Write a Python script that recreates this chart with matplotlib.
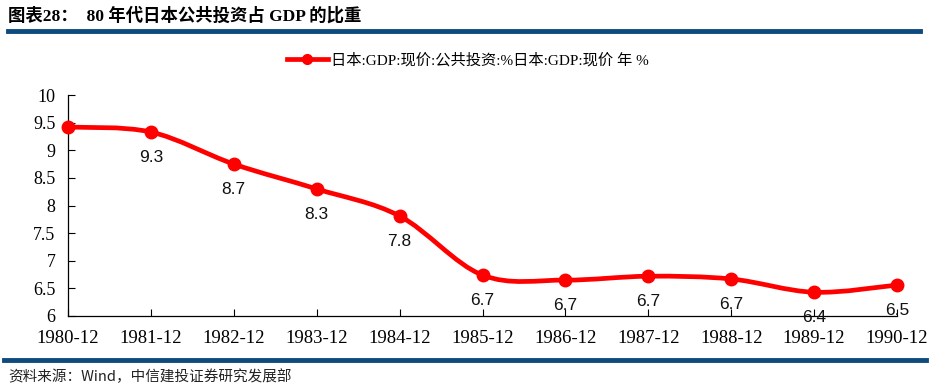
import matplotlib
matplotlib.use("Agg")
import matplotlib.pyplot as plt
from matplotlib.path import Path
from matplotlib.patches import PathPatch
from matplotlib.lines import Line2D
import numpy as np

categories = ["1980-12", "1981-12", "1982-12", "1983-12", "1984-12", "1985-12",
              "1986-12", "1987-12", "1988-12", "1989-12", "1990-12"]
values = [9.42, 9.33, 8.75, 8.30, 7.81, 6.74, 6.65, 6.72, 6.67, 6.43, 6.56]
labels = ["", "9.3", "8.7", "8.3", "7.8", "6.7", "6.7", "6.7", "6.7", "6.4", "6.5"]
yticks = [6, 6.5, 7, 7.5, 8, 8.5, 9, 9.5, 10]
ytick_labels = ["6", "6.5", "7", "7.5", "8", "8.5", "9", "9.5", "10"]
legend_label = "日本:GDP:现价:公共投资:%日本:GDP:现价 年 %"
title = "图表28：  80 年代日本公共投资占 GDP 的比重"
source = "资料来源：Wind，中信建投证券研究发展部"

RED = "#ff0000"
BLUE = "#0d4a7e"
serif = ["Liberation Serif", "Noto Sans CJK SC"]
sans = ["Liberation Sans", "Noto Sans CJK SC"]

fig = plt.figure(figsize=(9.3, 3.92), dpi=100)
ax = fig.add_axes([68/930, 1-316/392, (897-68)/930, (316-95)/392])

x = np.arange(len(values), dtype=float)
y = np.array(values)

# smooth curve through the points (Catmull-Rom -> cubic Bezier)
verts = [(x[0], y[0])]
codes = [Path.MOVETO]
n = len(x)
for i in range(n - 1):
    p0 = (x[i-1], y[i-1]) if i > 0 else (x[i], y[i])
    p1 = (x[i], y[i])
    p2 = (x[i+1], y[i+1])
    p3 = (x[i+2], y[i+2]) if i + 2 < n else (x[i+1], y[i+1])
    c1 = (p1[0] + (p2[0]-p0[0])/6, p1[1] + (p2[1]-p0[1])/6)
    c2 = (p2[0] - (p3[0]-p1[0])/6, p2[1] - (p3[1]-p1[1])/6)
    verts += [c1, c2, p2]
    codes += [Path.CURVE4]*3
patch = PathPatch(Path(verts, codes), facecolor="none", edgecolor=RED, lw=3.4,
                  capstyle="round", joinstyle="round", clip_on=False, zorder=3)
ax.add_patch(patch)
ax.plot(x, y, linestyle="none", marker="o", ms=9, color=RED, clip_on=False, zorder=4)

for xi, yi, lab in zip(x, y, labels):
    if lab:
        ax.annotate(lab, (xi, yi), xytext=(0, -13), textcoords="offset points",
                    ha="center", va="top", fontsize=12.5, family=sans, color="#111111")

ax.set_xlim(0, n - 1)
ax.set_ylim(6, 10)
ax.set_xticks(x)
ax.set_xticklabels(categories, family=serif, fontsize=13.5)
ax.set_yticks(yticks)
ax.set_yticklabels(ytick_labels, family=serif, fontsize=13)
ax.tick_params(axis="both", direction="in", length=5, width=0.8, colors="black")
ax.tick_params(axis="x", pad=10)
ax.tick_params(axis="y", pad=9)
for s in ["top", "right"]:
    ax.spines[s].set_visible(False)
for s in ["left", "bottom"]:
    ax.spines[s].set_linewidth(0.9)

handle = Line2D([], [], color=RED, lw=3.4, marker="o", ms=7)
fig.legend([handle], [legend_label], loc="center", bbox_to_anchor=(0.503, 1-60/392),
           frameon=False, prop={"family": serif, "size": 11}, handlelength=2.7,
           handletextpad=0.2)

fig.text(8/930, 1-16/392, title, ha="left", va="center", fontsize=12.5,
         fontweight="bold", family=serif)
fig.add_artist(Line2D([8/930, 920/930], [1-31/392, 1-31/392], color=BLUE, lw=3.5))
fig.add_artist(Line2D([4/930, 926/930], [1-360/392, 1-360/392], color=BLUE, lw=3.5))
fig.text(8/930, 1-377/392, source, ha="left", va="center", fontsize=10.5,
         style="italic", family=["Noto Sans CJK SC"], color="#222222")

fig.savefig("out.png", dpi=100)
